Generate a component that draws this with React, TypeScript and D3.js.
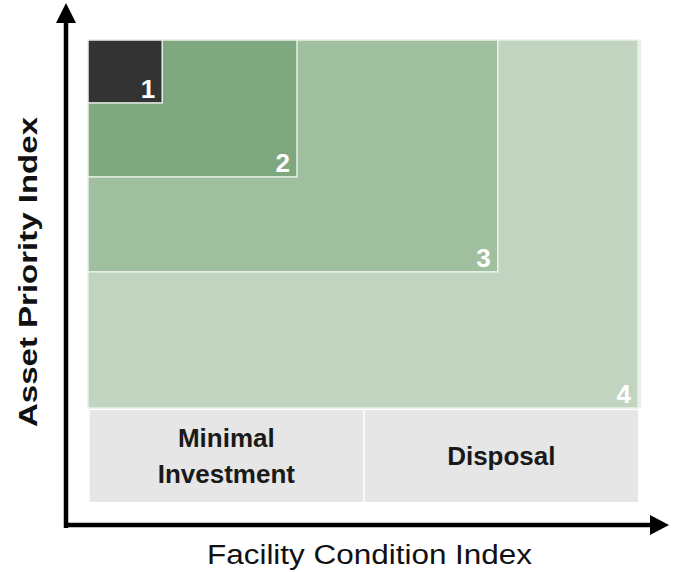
import React from "react";
import * as d3 from "d3";

const zoneLabels = ["4", "3", "2", "1"];
const zoneFciMax = [100, 74.5, 38, 13.5];
const zoneApiMin = [0, 37, 62.8, 82.9];
const zoneColors = ["#c1d4c0", "#9fbf9f", "#80a880", "#333333"];

const actionLabels = [["Minimal", "Investment"], ["Disposal"]];
const actionFciStart = [0.3, 50.3];
const actionFciEnd = [50, 100];

const W = 673;
const H = 572;

export default function App() {
  const x = d3.scaleLinear().domain([0, 100]).range([88, 638]);
  const y = d3.scaleLinear().domain([0, 100]).range([408, 40]);
  const bandTop = 410;
  const bandBottom = 502;
  const sans = "'Liberation Sans', Arial, sans-serif";
  return (
    <svg width={W} height={H} style={{ position: "absolute", left: 0, top: 0, background: "#fff" }}>
      <rect x={x(100)} y={y(100)} width={3} height={y(0) - y(100)} fill="#ececec" />
      {zoneLabels.map((lab, i) => (
        <g key={lab}>
          <rect
            x={x(0)}
            y={y(100)}
            width={x(zoneFciMax[i]) - x(0)}
            height={y(zoneApiMin[i]) - y(100)}
            fill={zoneColors[i]}
            stroke="#e9f1e8"
            strokeWidth={1.5}
          />
          <text
            x={x(zoneFciMax[i]) - 7}
            y={y(zoneApiMin[i]) - 5}
            textAnchor="end"
            fill="#fff"
            fontFamily={sans}
            fontWeight="bold"
            fontSize={26}
          >
            {lab}
          </text>
        </g>
      ))}
      {actionLabels.map((lines, i) => {
        const x0 = x(actionFciStart[i]);
        const x1 = x(actionFciEnd[i]);
        const cx = (x0 + x1) / 2;
        const cy = (bandTop + bandBottom) / 2;
        return (
          <g key={i}>
            <rect x={x0} y={bandTop} width={x1 - x0} height={bandBottom - bandTop} fill="#e6e6e6" />
            {lines.map((t, j) => (
              <text
                key={j}
                x={cx}
                y={cy + (j - (lines.length - 1) / 2) * 36 + 9}
                textAnchor="middle"
                fontFamily={sans}
                fontWeight="bold"
                fontSize={26}
                fill="#1a1a1a"
              >
                {t}
              </text>
            ))}
          </g>
        );
      })}
      <line x1={66} y1={528} x2={66} y2={18} stroke="#000" strokeWidth={4.5} />
      <polygon points="66,3 56,23 76,23" fill="#000" />
      <line x1={64} y1={525} x2={652} y2={525} stroke="#000" strokeWidth={4.5} />
      <polygon points="669,525 650,515 650,535" fill="#000" />
      <text
        x={207}
        y={564}
        textLength={325}
        lengthAdjust="spacingAndGlyphs"
        fontFamily={sans}
        fontSize={27}
        fill="#111"
      >
        Facility Condition Index
      </text>
      <text
        transform="translate(37,427) rotate(-90)"
        textLength={310}
        lengthAdjust="spacingAndGlyphs"
        fontFamily={sans}
        fontWeight="bold"
        fontSize={26}
        fill="#111"
      >
        Asset Priority Index
      </text>
    </svg>
  );
}
